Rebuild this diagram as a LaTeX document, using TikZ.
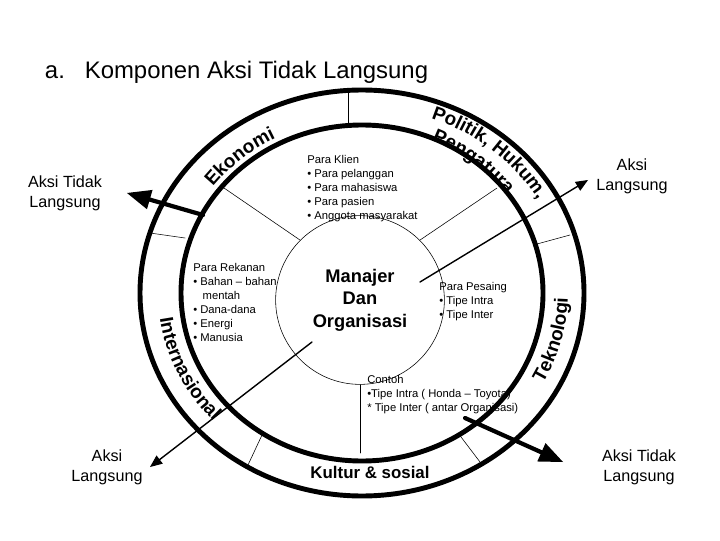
\documentclass[tikz,border=0pt]{standalone}
\usepackage{fontspec}
\setmainfont{Liberation Sans}
\usetikzlibrary{calc}
\usetikzlibrary{arrows,decorations.text}
\newcommand{\ringfont}{\fontsize{13.5}{15}\selectfont\bfseries}
\tikzset{
  small/.style={font=\fontsize{8}{10}\selectfont,align=left,anchor=north west,inner sep=0pt},
  label/.style={font=\fontsize{11.5}{14}\selectfont,align=center},
  ring/.style={line width=3.5pt},
  spoke/.style={line width=0.4pt},
  thickarrow/.style={->,line width=3pt},
  thinarrow/.style={->,line width=1pt}
}
\begin{document}
\begin{tikzpicture}[line cap=round,line join=round,>=triangle 45,x=0.025cm,y=0.025cm]
  \useasboundingbox (0,0) rectangle (720,540);
  \coordinate (c) at (362,247);
  % rings
  \draw [ring] (c) ellipse [x radius=222,y radius=203];
  \draw [ring] (c) ellipse [x radius=181,y radius=168];
  \node [draw,circle,minimum size=120,inner sep=0pt,font=\fontsize{13}{16}\selectfont\bfseries,align=center] (mo) at (360,240) {Manajer\\Dan\\Organisasi};
  % spokes
  \draw [spoke] (mo.135) -- (224,352);
  \draw [spoke] (mo.45) -- (497,352);
  \draw [spoke] (mo.south) -- (360,87);
  \draw [spoke] (348,448) -- (348,417);
  \draw [spoke] (150,307) -- (185,302);
  \draw [spoke] (537,296) -- (570,305);
  \draw [spoke] (248,75) -- (262,105);
  \draw [spoke] (480,78) -- (458,107);
  % ring texts
  \path [decorate,decoration={text along path,text align=center,text={|\ringfont|Ekonomi}}]
    ($(c)+(148:188 and 174)$) arc [start angle=148,end angle=112,x radius=188,y radius=174];
  \path [decorate,decoration={text along path,text align=center,text={|\ringfont|Politik, Hukum,}}]
    ($(c)+(72:203 and 186)$) arc [start angle=72,end angle=28,x radius=203,y radius=186];
  \path [decorate,decoration={text along path,text align=center,text={|\ringfont|Pengaturan}}]
    ($(c)+(64:180 and 165)$) arc [start angle=64,end angle=36,x radius=180,y radius=165];
  \path [decorate,decoration={text along path,text align=center,text={|\ringfont|Teknologi}}]
    ($(c)+(-30:206 and 189)$) arc [start angle=-30,end angle=0,x radius=206,y radius=189];
  \path [decorate,decoration={text along path,text align=center,text={|\ringfont|Internasional}}]
    ($(c)+(183:204 and 187)$) arc [start angle=183,end angle=228,x radius=204,y radius=187];
  \node [font=\fontsize{12}{14}\selectfont\bfseries] (ks) at (370,68) {Kultur \& sosial};
  % sector texts
  \node [small] (klien) at (307,385) {Para Klien\\\textbullet\ Para pelanggan\\\textbullet\ Para mahasiswa\\\textbullet\ Para pasien\\\textbullet\ Anggota masyarakat};
  \node [small] (rekanan) at (193,277) {Para Rekanan\\\textbullet\ Bahan -- bahan\\\ \ \ mentah\\\textbullet\ Dana-dana\\\textbullet\ Energi\\\textbullet\ Manusia};
  \node [small] (pesaing) at (439,258) {Para Pesaing\\\textbullet\ Tipe Intra\\\textbullet\ Tipe Inter};
  \node [small] (contoh) at (367,165) {Contoh\\\textbullet Tipe Intra ( Honda -- Toyota)\\* Tipe Inter ( antar Organisasi)};
  % outer labels
  \node [font=\fontsize{17}{20}\selectfont,anchor=west] (title) at (40,468) {a.\ \ \ Komponen Aksi Tidak Langsung};
  \node [label] (atl1) at (65,347) {Aksi Tidak\\Langsung};
  \node [label] (al1) at (632,364) {Aksi\\Langsung};
  \node [label] (al2) at (107,73) {Aksi\\Langsung};
  \node [label] (atl2) at (639,73) {Aksi Tidak\\Langsung};
  % arrows
  \coordinate (s1) at (203,325);
  \coordinate (t1) at (127,347);
  \coordinate (s2) at (312,198);
  \coordinate (t2) at (150,73);
  \coordinate (s3) at (420,258);
  \coordinate (t3) at (588,360);
  \coordinate (s4) at (465,122);
  \coordinate (t4) at (563,78);
  \draw [thickarrow] (s1) -- (t1);
  \draw [thinarrow] (s2) -- (t2);
  \draw [thinarrow] (s3) -- (t3);
  \draw [thickarrow] (s4) -- (t4);
\end{tikzpicture}
\end{document}
